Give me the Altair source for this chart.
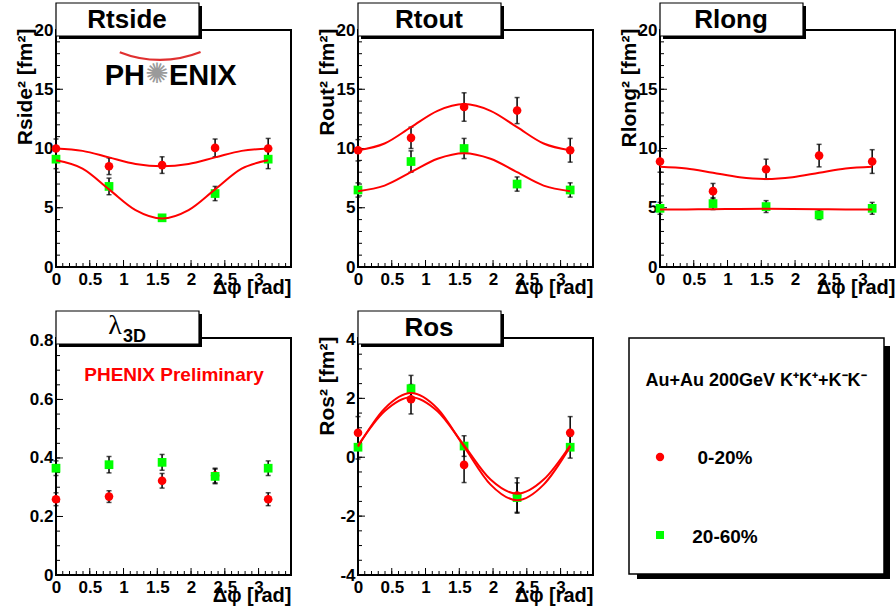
import altair as alt
import pandas as pd

FONT = "Liberation Sans"
W, H = 235, 237
XDOM = [0, 3.48]

# ---------------- data ----------------
PHI = [0.0, 0.785, 1.571, 2.356, 3.142]
FIT_PHI = [0.0, 0.393, 0.785, 1.178, 1.571, 1.963, 2.356, 2.749, 3.142]
CENTRALITY = ["0-20%", "20-60%"]
PANEL_TITLES = ["Rtside", "Rtout", "Rlong", "λ", "Ros"]
PANEL_SUBSCRIPT = "3D"
Y_TITLES = ["Rside² [fm²]", "Rout² [fm²]", "Rlong² [fm²]", "", "Ros² [fm²]"]
X_TITLE = "Δφ [rad]"
LEGEND_TITLE = "Au+Au 200GeV K⁺K⁺+K⁻K⁻"
PRELIM = "PHENIX Preliminary"

RSIDE_020 = [10.0, 8.5, 8.6, 10.05, 10.0]
RSIDE_020_ERR = [0.8, 0.7, 0.7, 0.75, 0.85]
RSIDE_2060 = [9.1, 6.8, 4.15, 6.2, 9.1]
RSIDE_2060_ERR = [0.8, 0.7, 0.25, 0.6, 0.8]
RSIDE_FIT_020 = [10.0, 9.8, 9.25, 8.7, 8.5, 8.7, 9.25, 9.8, 10.0]
RSIDE_FIT_2060 = [9.0, 8.3, 6.55, 4.8, 4.1, 4.8, 6.55, 8.3, 9.0]

ROUT_020 = [9.85, 10.9, 13.5, 13.2, 9.85]
ROUT_020_ERR = [0.9, 0.9, 1.2, 1.1, 1.0]
ROUT_2060 = [6.5, 8.9, 10.0, 7.0, 6.5]
ROUT_2060_ERR = [0.6, 0.9, 0.85, 0.6, 0.6]
ROUT_FIT_020 = [9.85, 10.42, 11.8, 13.18, 13.75, 13.18, 11.8, 10.42, 9.85]
ROUT_FIT_2060 = [6.4, 6.87, 8.0, 9.13, 9.6, 9.13, 8.0, 6.87, 6.4]

RLONG_020 = [8.9, 6.4, 8.25, 9.4, 8.9]
RLONG_020_ERR = [0.9, 0.65, 0.85, 0.95, 1.0]
RLONG_2060 = [4.95, 5.35, 5.1, 4.4, 4.95]
RLONG_2060_ERR = [0.5, 0.5, 0.5, 0.4, 0.5]
RLONG_FIT_020 = [8.47, 8.32, 7.95, 7.58, 7.43, 7.58, 7.95, 8.32, 8.47]
RLONG_FIT_2060 = [4.85, 4.86, 4.88, 4.9, 4.91, 4.9, 4.88, 4.86, 4.85]

LAMBDA_020 = [0.259, 0.268, 0.322, 0.34, 0.259]
LAMBDA_020_ERR = [0.022, 0.02, 0.025, 0.025, 0.022]
LAMBDA_2060 = [0.365, 0.377, 0.385, 0.337, 0.365]
LAMBDA_2060_ERR = [0.025, 0.028, 0.027, 0.025, 0.025]

ROS_020 = [0.83, 1.97, -0.26, -1.3, 0.83]
ROS_020_ERR = [0.55, 0.5, 0.6, 0.6, 0.55]
ROS_2060 = [0.34, 2.33, 0.38, -1.37, 0.34]
ROS_2060_ERR = [0.4, 0.45, 0.35, 0.5, 0.37]
ROS_FIT_020 = [0.40, 1.56, 2.04, 1.56, 0.40, -0.76, -1.24, -0.76, 0.40]
ROS_FIT_2060 = [0.36, 1.65, 2.18, 1.65, 0.36, -0.93, -1.46, -0.93, 0.36]

# axis tick positions
X_MAJOR = [0, 0.5, 1, 1.5, 2, 2.5, 3]
X_MINOR = [round(0.1 * i, 1) for i in range(35)]
R_MAJOR = [0, 5, 10, 15, 20]
R_MINOR = list(range(0, 21))
L_MAJOR = [0, 0.2, 0.4, 0.6, 0.8]
L_MINOR = [round(0.05 * i, 2) for i in range(17)]
OS_MAJOR = [-4, -2, 0, 2, 4]
OS_MINOR = [round(-4 + 0.5 * i, 1) for i in range(17)]


def points_df(c, ce, p, pe):
    vals = list(c) + list(p)
    errs = list(ce) + list(pe)
    return pd.DataFrame({
        "phi": PHI + PHI,
        "val": vals,
        "lo": [v - e for v, e in zip(vals, errs)],
        "hi": [v + e for v, e in zip(vals, errs)],
        "cent": [CENTRALITY[0]] * len(PHI) + [CENTRALITY[1]] * len(PHI),
    })


def fit_df(fc, fp):
    return pd.DataFrame({
        "phi": FIT_PHI + FIT_PHI,
        "val": list(fc) + list(fp),
        "cent": [CENTRALITY[0]] * len(FIT_PHI) + [CENTRALITY[1]] * len(FIT_PHI),
    })


def title_box(idx):
    one = pd.DataFrame({"t": [PANEL_TITLES[idx]], "s": [PANEL_SUBSCRIPT]})
    shadow = alt.Chart(one).mark_rect(color="black").encode(
        x=alt.value(3), x2=alt.value(146), y=alt.value(-24), y2=alt.value(9))
    box = alt.Chart(one).mark_rect(fill="white", stroke="black", strokeWidth=1.2).encode(
        x=alt.value(0), x2=alt.value(143), y=alt.value(-27), y2=alt.value(6))
    layers = [shadow, box]
    if idx == 3:
        layers.append(alt.Chart(one).mark_text(font="Liberation Serif", fontSize=28,
                                               align="center", baseline="alphabetic").encode(
            x=alt.value(59), y=alt.value(-4), text="t:N"))
        layers.append(alt.Chart(one).mark_text(font=FONT, fontSize=18, fontWeight="bold",
                                               align="left", baseline="alphabetic").encode(
            x=alt.value(67), y=alt.value(4), text="s:N"))
    else:
        layers.append(alt.Chart(one).mark_text(font=FONT, fontSize=26, fontWeight="bold",
                                               align="center", baseline="middle").encode(
            x=alt.value(71), y=alt.value(-10), text="t:N"))
    return layers


def panel(idx, ydom, ymaj, ymin, pts, fits=None, extras=()):
    xscale = alt.Scale(domain=XDOM, nice=False, zero=False)
    yscale = alt.Scale(domain=ydom, nice=False, zero=False)
    xaxis = alt.Axis(values=X_MAJOR, labelExpr="'' + datum.value", title=X_TITLE,
                     titleX=W, titleY=26, titleAlign="right", titleBaseline="alphabetic",
                     titleAngle=0, titleFontSize=20, titleFontWeight="bold")
    ykw = dict(values=ymaj, labelExpr="'' + datum.value")
    if Y_TITLES[idx]:
        ykw.update(title=Y_TITLES[idx], titleAngle=270, titleAlign="right",
                   titleBaseline="alphabetic", titleX=-25, titleY=-2,
                   titleFontSize=21, titleFontWeight="bold")
    else:
        ykw.update(title=None)
    yaxis = alt.Axis(**ykw)
    X = alt.X("phi:Q", scale=xscale, axis=xaxis)
    Y = alt.Y("val:Q", scale=yscale, axis=yaxis)
    Ylo = alt.Y("lo:Q", scale=yscale, axis=yaxis)
    Yhi = alt.Y("hi:Q", scale=yscale, axis=yaxis)

    layers = []
    layers.append(alt.Chart(pd.DataFrame({"phi": X_MINOR})).mark_rule(color="black", strokeWidth=1).encode(
        x=X, y=alt.value(H), y2=alt.value(H - 4)))
    layers.append(alt.Chart(pd.DataFrame({"phi": X_MAJOR})).mark_rule(color="black", strokeWidth=1).encode(
        x=X, y=alt.value(H), y2=alt.value(H - 7)))
    layers.append(alt.Chart(pd.DataFrame({"val": ymin})).mark_rule(color="black", strokeWidth=1).encode(
        y=Y, x=alt.value(0), x2=alt.value(4)))
    layers.append(alt.Chart(pd.DataFrame({"val": ymaj})).mark_rule(color="black", strokeWidth=1).encode(
        y=Y, x=alt.value(0), x2=alt.value(7)))

    base = alt.Chart(pts)
    layers.append(base.mark_rule(color="black", strokeWidth=1.5).encode(x=X, y=Ylo, y2="hi:Q"))
    layers.append(base.mark_tick(color="black", orient="horizontal", size=5, thickness=1.5).encode(x=X, y=Ylo))
    layers.append(base.mark_tick(color="black", orient="horizontal", size=5, thickness=1.5).encode(x=X, y=Yhi))
    layers.append(base.transform_filter(alt.datum.cent == CENTRALITY[0]).mark_point(
        shape="circle", filled=True, color="#ff0000", size=74, opacity=1).encode(x=X, y=Y))
    layers.append(base.transform_filter(alt.datum.cent == CENTRALITY[1]).mark_point(
        shape="square", filled=True, color="#00ff00", size=76, opacity=1).encode(x=X, y=Y))
    if fits is not None:
        layers.append(alt.Chart(fits).mark_line(color="#ff0000", strokeWidth=2, interpolate="monotone").encode(
            x=X, y=Y, detail="cent:N"))
    layers.extend(extras)
    layers.extend(title_box(idx))
    return alt.layer(*layers).properties(width=W, height=H)


# ---------------- decorations ----------------
logo = pd.DataFrame({"a": ["PH"], "b": ["ENIX"], "star": ["✺"]})
logo_layers = [
    alt.Chart(logo).mark_rect(opacity=0).encode(
        x=alt.value(-55), x2=alt.value(-54), y=alt.value(-29), y2=alt.value(-28)),
    alt.Chart(logo).mark_arc(color="#e03030").encode(
        x=alt.value(104), y=alt.value(-79), radius=alt.value(110), radius2=alt.value(107.8),
        theta=alt.value(2.76), theta2=alt.value(3.52)),
    alt.Chart(logo).mark_text(font=FONT, fontSize=29, fontWeight="bold", align="right",
                              baseline="alphabetic", color="black").encode(
        x=alt.value(89), y=alt.value(55), text="a:N"),
    alt.Chart(logo).mark_text(font="DejaVu Sans", fontSize=28, align="center",
                              baseline="middle", color="#9a9a9a").encode(
        x=alt.value(101), y=alt.value(45), text="star:N"),
    alt.Chart(logo).mark_text(font=FONT, fontSize=29, fontWeight="bold", align="left",
                              baseline="alphabetic", color="black").encode(
        x=alt.value(113), y=alt.value(55), text="b:N"),
]

prelim_layers = [
    alt.Chart(pd.DataFrame({"t": [PRELIM]})).mark_text(
        font=FONT, fontSize=19, fontWeight="bold", color="#ff0000", align="center",
        baseline="middle").encode(x=alt.value(118), y=alt.value(37), text="t:N")
]

p1 = panel(0, [0, 20], R_MAJOR, R_MINOR, points_df(RSIDE_020, RSIDE_020_ERR, RSIDE_2060, RSIDE_2060_ERR),
           fit_df(RSIDE_FIT_020, RSIDE_FIT_2060), logo_layers)
p2 = panel(1, [0, 20], R_MAJOR, R_MINOR, points_df(ROUT_020, ROUT_020_ERR, ROUT_2060, ROUT_2060_ERR),
           fit_df(ROUT_FIT_020, ROUT_FIT_2060))
p3 = panel(2, [0, 20], R_MAJOR, R_MINOR, points_df(RLONG_020, RLONG_020_ERR, RLONG_2060, RLONG_2060_ERR),
           fit_df(RLONG_FIT_020, RLONG_FIT_2060))
p4 = panel(3, [0, 0.81], L_MAJOR, L_MINOR, points_df(LAMBDA_020, LAMBDA_020_ERR, LAMBDA_2060, LAMBDA_2060_ERR),
           None, prelim_layers)
p5 = panel(4, [-4, 4.05], OS_MAJOR, OS_MINOR, points_df(ROS_020, ROS_020_ERR, ROS_2060, ROS_2060_ERR),
           fit_df(ROS_FIT_020, ROS_FIT_2060))

# ---------------- legend panel ----------------
leg = pd.DataFrame({"title": [LEGEND_TITLE], "l0": [CENTRALITY[0]], "l1": [CENTRALITY[1]]})
legend_panel = alt.layer(
    alt.Chart(leg).mark_rect(color="black").encode(
        x=alt.value(-23), x2=alt.value(230), y=alt.value(8), y2=alt.value(241)),
    alt.Chart(leg).mark_rect(fill="white", stroke="black", strokeWidth=1.5).encode(
        x=alt.value(-31), x2=alt.value(224), y=alt.value(0), y2=alt.value(236)),
    alt.Chart(leg).mark_text(font=FONT, fontSize=18, fontWeight="bold", align="center",
                             baseline="middle").encode(x=alt.value(96), y=alt.value(43), text="title:N"),
    alt.Chart(leg).mark_point(shape="circle", filled=True, color="#ff0000", size=70, opacity=1).encode(
        x=alt.value(0), y=alt.value(119)),
    alt.Chart(leg).mark_point(shape="square", filled=True, color="#00ff00", size=64, opacity=1).encode(
        x=alt.value(0), y=alt.value(197)),
    alt.Chart(leg).mark_text(font=FONT, fontSize=19, fontWeight="bold", align="center",
                             baseline="middle").encode(x=alt.value(65), y=alt.value(120), text="l0:N"),
    alt.Chart(leg).mark_text(font=FONT, fontSize=19, fontWeight="bold", align="center",
                             baseline="middle").encode(x=alt.value(65), y=alt.value(199), text="l1:N"),
).properties(width=W, height=H, view=alt.ViewBackground(stroke="transparent"))

chart = alt.concat(
    p1, p2, p3, p4, p5, legend_panel,
    columns=3, spacing={"row": 71, "column": 67}, bounds="flush",
).properties(
    padding=0, background="white"
).configure_view(
    stroke="black", strokeWidth=2
).configure_axis(
    labelFont=FONT, labelFontWeight="bold", labelFontSize=17, labelColor="black",
    titleFont=FONT, titleColor="black", grid=False, domain=False, ticks=False, tickSize=0,
    labelFlush=False, labelOverlap=False
).configure_axisX(
    labelPadding=4
).configure_axisY(
    labelPadding=3
)

chart.save("out.html", embed_options={"renderer": "svg", "actions": False})
